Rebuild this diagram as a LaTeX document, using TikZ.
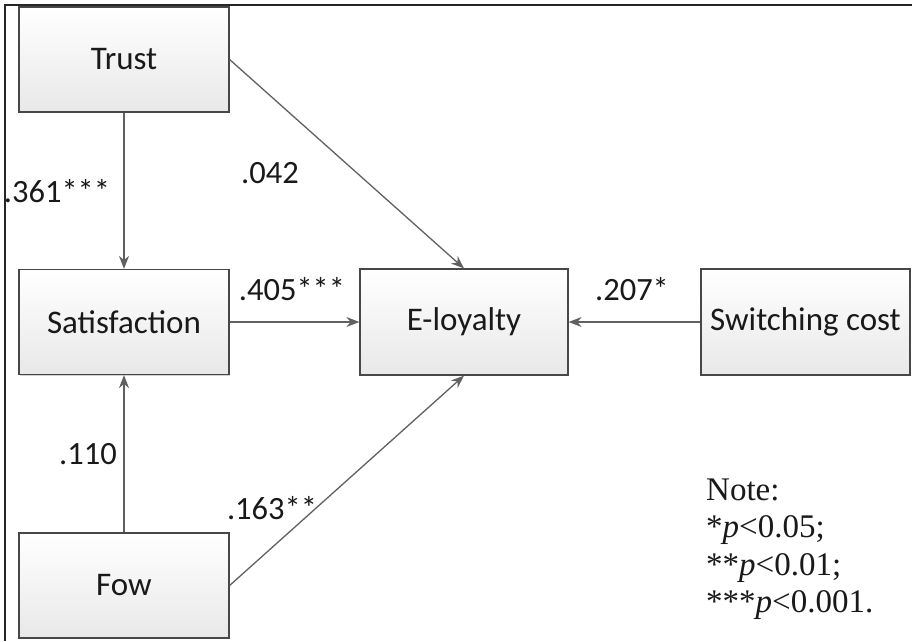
\documentclass[tikz,border=0pt]{standalone}
\usepackage{fontspec}
\setmainfont{Carlito}
\newfontfamily\notefont{Liberation Serif}
\usetikzlibrary{arrows.meta,shadows}
\begin{document}
\begin{tikzpicture}[x=1pt,y=-1pt,
  box/.style={draw=black!72, line width=1.2pt, top color=white, bottom color=black!9,
    minimum width=210pt, minimum height=105pt, inner sep=0pt, text=black!90,
    font=\fontsize{33}{40}\selectfont,
    drop shadow={shadow xshift=1.2pt, shadow yshift=-1.2pt, opacity=0.35}},
  conn/.style={draw=black!62, line width=1.3pt, -{Stealth[length=13pt,width=10pt]}},
  lbl/.style={font=\fontsize{32.5}{38}\selectfont, inner sep=0pt, text=black!90},
  notestyle/.style={font=\notefont\fontsize{33}{37.5}\selectfont, inner sep=0pt, anchor=base west, text=black!90}]
\useasboundingbox (0,0) rectangle (912,641);
\fill[white] (0,0) rectangle (912,641);
\draw[line width=2pt, black!85] (912,5) -- (5,5) -- (5,641);

\node[box] (trust) at (124,59.5) {Trust};
\node[box] (sat) at (124,322) {Satisfaction};
\node[box] (fow) at (124,585.5) {Fow};
\node[box, minimum width=208pt, minimum height=106pt] (el) at (464,322) {E-loyalty};
\node[box, minimum width=209pt, minimum height=106pt] (sc) at (805.5,322) {Switching cost};

\draw[conn] (trust.south) -- (sat.north);
\draw[conn] (trust.east) -- (el.north);
\draw[conn] (sat.east) -- (el.west);
\draw[conn] (sc.west) -- (el.east);
\draw[conn] (fow.north) -- (sat.south);
\draw[conn] (fow.east) -- (el.south);

\node[lbl] (l361) at (57,191) {.361***};
\node[lbl] (l042) at (270,173) {.042};
\node[lbl] (l405) at (292,289) {.405***};
\node[lbl] (l207) at (632,289) {.207*};
\node[lbl] (l110) at (88,454) {.110};
\node[lbl] (l163) at (272,508) {.163**};

\node[notestyle] (n0) at (706,500) {Note:};
\node[notestyle] (n1) at (706,537.5) {*\textit{p}<0.05;};
\node[notestyle] (n2) at (706,575) {**\textit{p}<0.01;};
\node[notestyle] (n3) at (706,612.5) {***\textit{p}<0.001.};
\end{tikzpicture}
\end{document}
